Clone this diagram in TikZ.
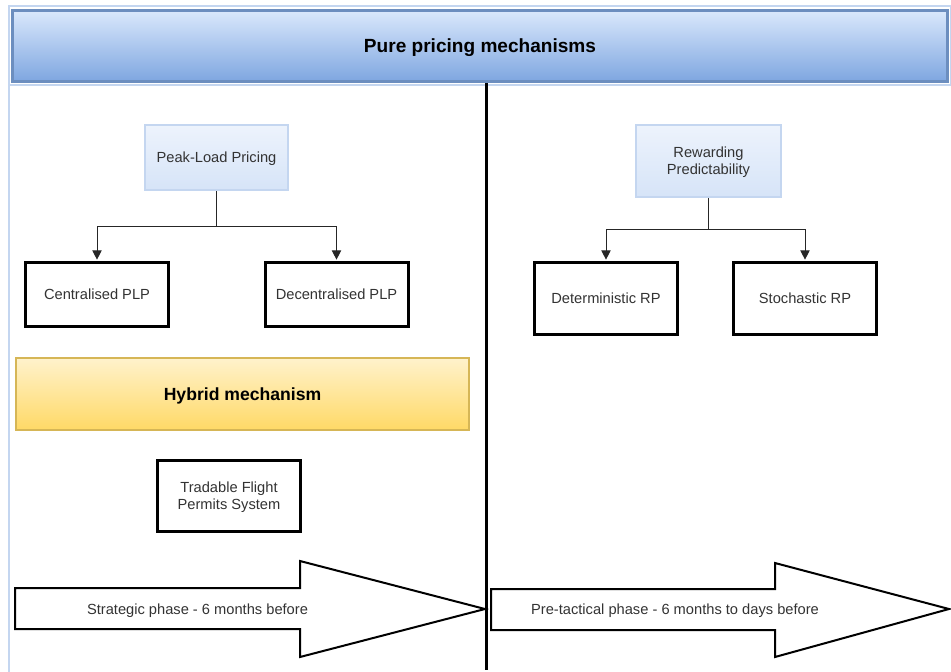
\documentclass[tikz,border=0pt]{standalone}
\usepackage{fontspec}
\setmainfont{Liberation Sans}
\usepackage{tikz}
\usetikzlibrary{arrows, arrows.meta}
\definecolor{bannertop}{HTML}{DAE8FC}
\definecolor{bannerbot}{HTML}{7EA6E0}
\definecolor{bannerline}{HTML}{6C8EBF}
\definecolor{paletop}{HTML}{EDF3FC}
\definecolor{palebot}{HTML}{D6E4F8}
\definecolor{paleline}{HTML}{C4D6F0}
\definecolor{goldtop}{HTML}{FFF2CC}
\definecolor{goldbot}{HTML}{FFD966}
\definecolor{goldline}{HTML}{D6B656}
\definecolor{labelgray}{HTML}{333333}
\tikzstyle{frame} = [draw=paleline, line width=1pt]
\tikzstyle{banner} = [rectangle, minimum width=701.5pt, minimum height=53.5pt, text centered, text depth=0pt, draw=bannerline, line width=2pt, top color=bannertop, bottom color=bannerbot, font=\fontsize{14.3}{16}\selectfont\bfseries]
\tikzstyle{pricing} = [rectangle, minimum width=107.25pt, minimum height=48.75pt, align=center, text depth=0pt, draw=paleline, line width=1.5pt, top color=paletop, bottom color=palebot, text=labelgray, font=\fontsize{11}{12.5}\selectfont]
\tikzstyle{variant} = [rectangle, minimum width=107.25pt, minimum height=48pt, align=center, text depth=0pt, draw=black, line width=2.25pt, fill=white, text=labelgray, font=\fontsize{11}{12.5}\selectfont]
\tikzstyle{hybrid} = [rectangle, minimum width=339.75pt, minimum height=54pt, text centered, text depth=0pt, draw=goldline, line width=1.5pt, top color=goldtop, bottom color=goldbot, font=\fontsize{13.2}{15}\selectfont\bfseries]
\tikzstyle{phase} = [draw=black, line width=1.5pt, fill=white, line join=miter]
\tikzstyle{phasetext} = [text=labelgray, text depth=0pt, font=\fontsize{11}{13}\selectfont]
\tikzstyle{divider} = [draw=black, line width=2.25pt]
\tikzstyle{arrow} = [line width=0.75pt, draw=black!85, ->, >={Triangle[length=7pt,width=7pt]}, shorten >=1pt]
\begin{document}
\begin{tikzpicture}[x=0.75pt, y=-0.75pt]
      \useasboundingbox (0,0) rectangle (951,672);
      \draw[frame] (9,672) |- (951,6) |- (9,85);
      \node (banner) [banner] at (480,46) {Pure pricing mechanisms};

      \node (peak) [pricing] at (216.5,157.5) {Peak-Load Pricing};
      \node (central) [variant] at (97,294.5) {Centralised PLP};
      \node (decentral) [variant] at (336.5,294.5) {Decentralised PLP};
      \node (hybrid) [hybrid] at (242.5,394) {Hybrid mechanism};
      \node (tradable) [variant, minimum height=53.25pt] at (229,496) {Tradable Flight\\Permits System};

      \node (reward) [pricing, minimum height=54pt, minimum width=108.75pt] at (708.5,161) {Rewarding\\Predictability};
      \node (determ) [variant, minimum height=54pt] at (606,298.5) {Deterministic RP};
      \node (stoch) [variant, minimum height=54pt] at (805,298.5) {Stochastic RP};

      \draw[arrow] (peak.south) --++(0,35) -| (central.north);
      \draw[arrow] (peak.south) --++(0,35) -| (decentral.north);
      \draw[arrow] (reward.south) --++(0,31) -| (determ.north);
      \draw[arrow] (reward.south) --++(0,31) -| (stoch.north);

      \draw[phase] (15,588) -- (300,588) -- (300,561) -- (485,609) -- (300,657) -- (300,629) -- (15,629) -- cycle;
      \draw[phase] (491,589) -- (775,589) -- (775,563) -- (949,609) -- (775,657) -- (775,630) -- (491,630) -- cycle;
      \node (strategic) [phasetext] at (197.5,609) {Strategic phase - 6 months before};
      \node (pretactical) [phasetext] at (675,609) {Pre-tactical phase - 6 months to days before};

      \coordinate (divtop) at (486.5,83);
      \coordinate (divbot) at (486.5,670);
      \draw[divider] (divtop) -- (divbot);
    \end{tikzpicture}
\end{document}
